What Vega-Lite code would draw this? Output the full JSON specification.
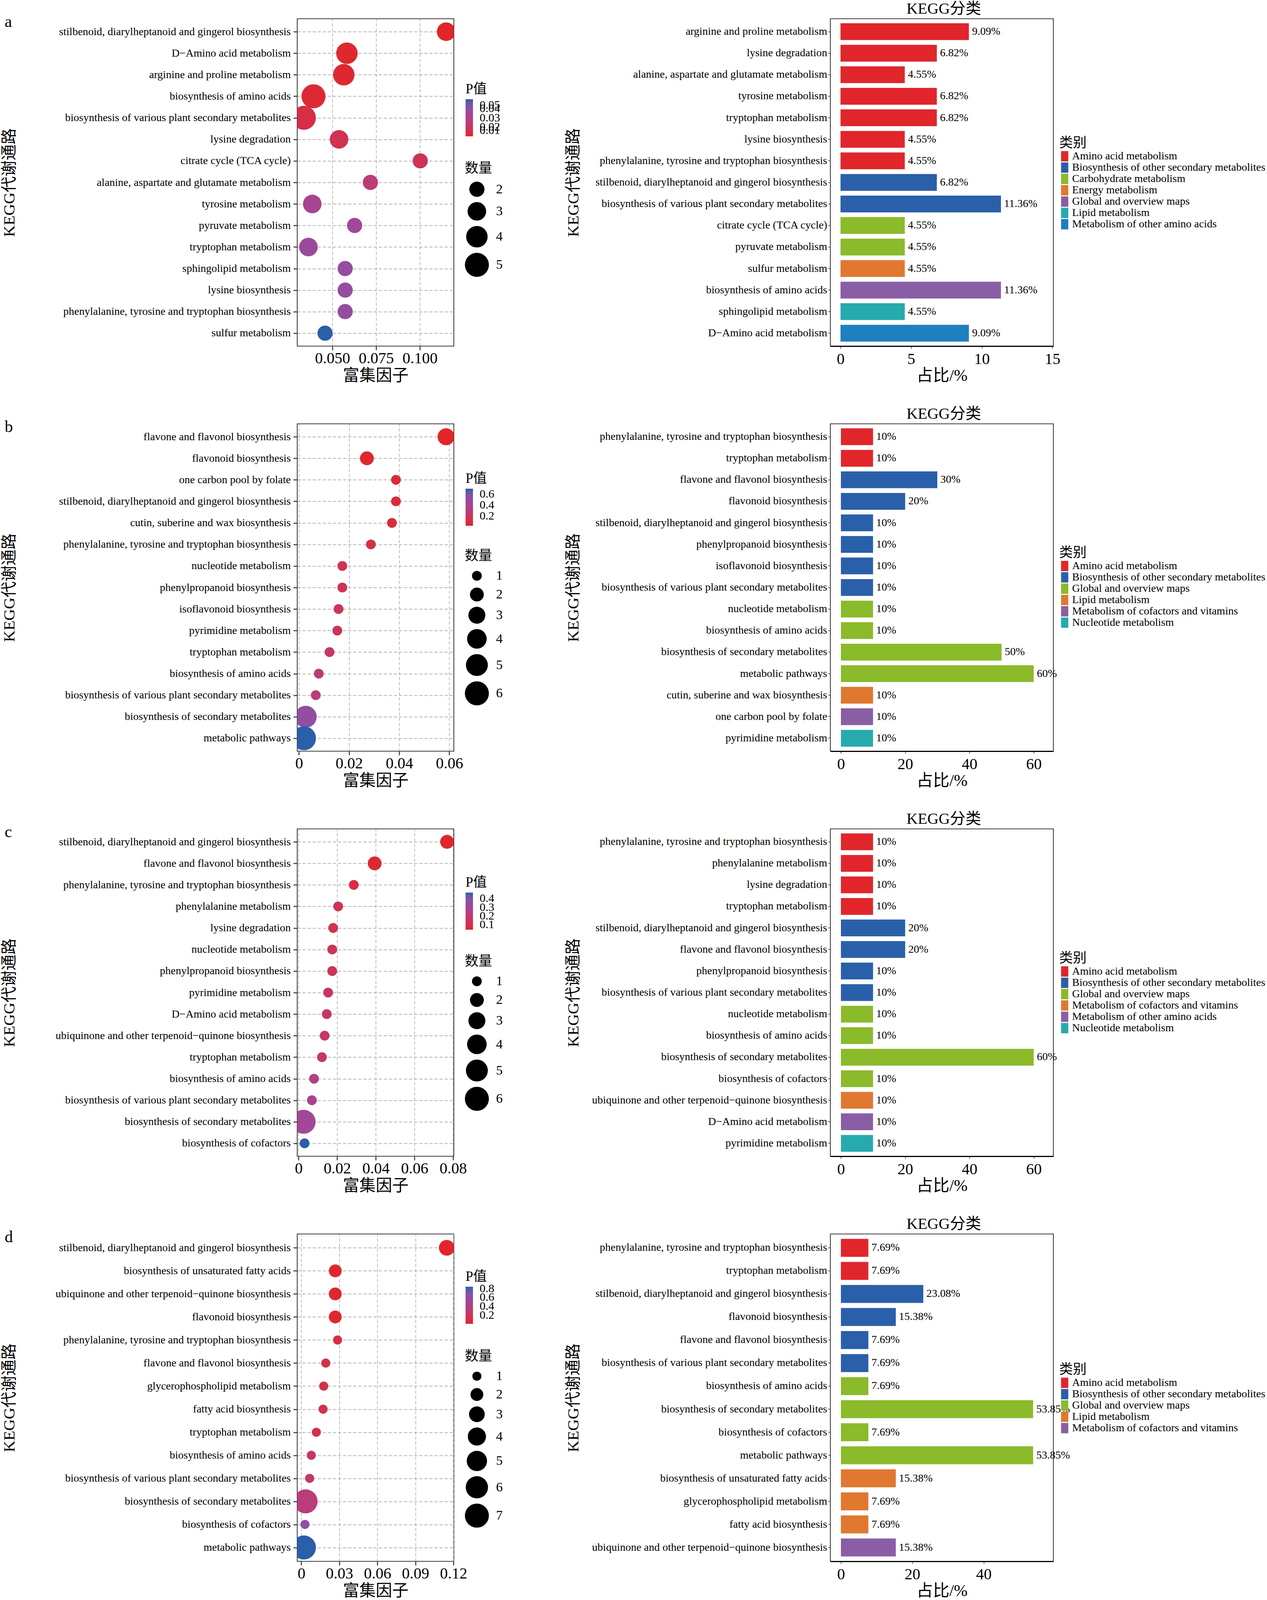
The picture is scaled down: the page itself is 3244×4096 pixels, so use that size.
{
"$schema": "https://vega.github.io/schema/vega-lite/v6.json",
"background": "white",
"padding": {"left": 2, "top": 2, "right": 0, "bottom": 0},
"config": {
  "font": "Liberation Serif, Noto Sans CJK SC",
  "view": {"stroke": "black", "strokeWidth": 1.6},
  "axis": {"labelColor": "black", "titleColor": "black", "titleFontWeight": "normal", "labelLimit": 1000, "domain": false, "grid": false, "tickColor": "#333333", "labelOverlap": false, "labelFlush": false},
  "legend": {"labelColor": "black", "titleColor": "black", "titleFontWeight": "normal", "labelLimit": 1000, "padding": 0, "symbolBaseFillColor": "black", "symbolBaseStrokeColor": "black"},
  "title": {"fontWeight": "normal", "color": "black"}
},
"datasets": {
  "a_bub": [
    {"pathway":"stilbenoid, diarylheptanoid and gingerol biosynthesis","rich":0.1150,"p":0.010,"count":3},
    {"pathway":"D−Amino acid metabolism","rich":0.0583,"p":0.011,"count":4},
    {"pathway":"arginine and proline metabolism","rich":0.0565,"p":0.011,"count":4},
    {"pathway":"biosynthesis of amino acids","rich":0.0392,"p":0.012,"count":5},
    {"pathway":"biosynthesis of various plant secondary metabolites","rich":0.0337,"p":0.015,"count":5},
    {"pathway":"lysine degradation","rich":0.0538,"p":0.018,"count":3},
    {"pathway":"citrate cycle (TCA cycle)","rich":0.1002,"p":0.019,"count":2},
    {"pathway":"alanine, aspartate and glutamate metabolism","rich":0.0717,"p":0.026,"count":2},
    {"pathway":"tyrosine metabolism","rich":0.0385,"p":0.033,"count":3},
    {"pathway":"pyruvate metabolism","rich":0.0627,"p":0.035,"count":2},
    {"pathway":"tryptophan metabolism","rich":0.0363,"p":0.037,"count":3},
    {"pathway":"sphingolipid metabolism","rich":0.0573,"p":0.039,"count":2},
    {"pathway":"lysine biosynthesis","rich":0.0573,"p":0.039,"count":2},
    {"pathway":"phenylalanine, tyrosine and tryptophan biosynthesis","rich":0.0573,"p":0.039,"count":2},
    {"pathway":"sulfur metabolism","rich":0.0458,"p":0.050,"count":2}
  ],
  "a_bar": [
    {"pathway":"arginine and proline metabolism","pct":9.09,"lab":"9.09%","cat":"Amino acid metabolism"},
    {"pathway":"lysine degradation","pct":6.82,"lab":"6.82%","cat":"Amino acid metabolism"},
    {"pathway":"alanine, aspartate and glutamate metabolism","pct":4.55,"lab":"4.55%","cat":"Amino acid metabolism"},
    {"pathway":"tyrosine metabolism","pct":6.82,"lab":"6.82%","cat":"Amino acid metabolism"},
    {"pathway":"tryptophan metabolism","pct":6.82,"lab":"6.82%","cat":"Amino acid metabolism"},
    {"pathway":"lysine biosynthesis","pct":4.55,"lab":"4.55%","cat":"Amino acid metabolism"},
    {"pathway":"phenylalanine, tyrosine and tryptophan biosynthesis","pct":4.55,"lab":"4.55%","cat":"Amino acid metabolism"},
    {"pathway":"stilbenoid, diarylheptanoid and gingerol biosynthesis","pct":6.82,"lab":"6.82%","cat":"Biosynthesis of other secondary metabolites"},
    {"pathway":"biosynthesis of various plant secondary metabolites","pct":11.36,"lab":"11.36%","cat":"Biosynthesis of other secondary metabolites"},
    {"pathway":"citrate cycle (TCA cycle)","pct":4.55,"lab":"4.55%","cat":"Carbohydrate metabolism"},
    {"pathway":"pyruvate metabolism","pct":4.55,"lab":"4.55%","cat":"Carbohydrate metabolism"},
    {"pathway":"sulfur metabolism","pct":4.55,"lab":"4.55%","cat":"Energy metabolism"},
    {"pathway":"biosynthesis of amino acids","pct":11.36,"lab":"11.36%","cat":"Global and overview maps"},
    {"pathway":"sphingolipid metabolism","pct":4.55,"lab":"4.55%","cat":"Lipid metabolism"},
    {"pathway":"D−Amino acid metabolism","pct":9.09,"lab":"9.09%","cat":"Metabolism of other amino acids"}
  ],
  "b_bub": [
    {"pathway":"flavone and flavonol biosynthesis","rich":0.0587,"p":0.02,"count":3},
    {"pathway":"flavonoid biosynthesis","rich":0.0271,"p":0.03,"count":2},
    {"pathway":"one carbon pool by folate","rich":0.0387,"p":0.07,"count":1},
    {"pathway":"stilbenoid, diarylheptanoid and gingerol biosynthesis","rich":0.0387,"p":0.07,"count":1},
    {"pathway":"cutin, suberine and wax biosynthesis","rich":0.0371,"p":0.08,"count":1},
    {"pathway":"phenylalanine, tyrosine and tryptophan biosynthesis","rich":0.0287,"p":0.11,"count":1},
    {"pathway":"nucleotide metabolism","rich":0.0173,"p":0.16,"count":1},
    {"pathway":"phenylpropanoid biosynthesis","rich":0.0173,"p":0.16,"count":1},
    {"pathway":"isoflavonoid biosynthesis","rich":0.0158,"p":0.18,"count":1},
    {"pathway":"pyrimidine metabolism","rich":0.0153,"p":0.19,"count":1},
    {"pathway":"tryptophan metabolism","rich":0.0122,"p":0.22,"count":1},
    {"pathway":"biosynthesis of amino acids","rich":0.0079,"p":0.28,"count":1},
    {"pathway":"biosynthesis of various plant secondary metabolites","rich":0.0067,"p":0.30,"count":1},
    {"pathway":"biosynthesis of secondary metabolites","rich":0.0027,"p":0.53,"count":5},
    {"pathway":"metabolic pathways","rich":0.0020,"p":0.70,"count":6}
  ],
  "b_bar": [
    {"pathway":"phenylalanine, tyrosine and tryptophan biosynthesis","pct":10,"lab":"10%","cat":"Amino acid metabolism"},
    {"pathway":"tryptophan metabolism","pct":10,"lab":"10%","cat":"Amino acid metabolism"},
    {"pathway":"flavone and flavonol biosynthesis","pct":30,"lab":"30%","cat":"Biosynthesis of other secondary metabolites"},
    {"pathway":"flavonoid biosynthesis","pct":20,"lab":"20%","cat":"Biosynthesis of other secondary metabolites"},
    {"pathway":"stilbenoid, diarylheptanoid and gingerol biosynthesis","pct":10,"lab":"10%","cat":"Biosynthesis of other secondary metabolites"},
    {"pathway":"phenylpropanoid biosynthesis","pct":10,"lab":"10%","cat":"Biosynthesis of other secondary metabolites"},
    {"pathway":"isoflavonoid biosynthesis","pct":10,"lab":"10%","cat":"Biosynthesis of other secondary metabolites"},
    {"pathway":"biosynthesis of various plant secondary metabolites","pct":10,"lab":"10%","cat":"Biosynthesis of other secondary metabolites"},
    {"pathway":"nucleotide metabolism","pct":10,"lab":"10%","cat":"Global and overview maps"},
    {"pathway":"biosynthesis of amino acids","pct":10,"lab":"10%","cat":"Global and overview maps"},
    {"pathway":"biosynthesis of secondary metabolites","pct":50,"lab":"50%","cat":"Global and overview maps"},
    {"pathway":"metabolic pathways","pct":60,"lab":"60%","cat":"Global and overview maps"},
    {"pathway":"cutin, suberine and wax biosynthesis","pct":10,"lab":"10%","cat":"Lipid metabolism"},
    {"pathway":"one carbon pool by folate","pct":10,"lab":"10%","cat":"Metabolism of cofactors and vitamins"},
    {"pathway":"pyrimidine metabolism","pct":10,"lab":"10%","cat":"Nucleotide metabolism"}
  ],
  "c_bub": [
    {"pathway":"stilbenoid, diarylheptanoid and gingerol biosynthesis","rich":0.0769,"p":0.04,"count":2},
    {"pathway":"flavone and flavonol biosynthesis","rich":0.0394,"p":0.05,"count":2},
    {"pathway":"phenylalanine, tyrosine and tryptophan biosynthesis","rich":0.0286,"p":0.10,"count":1},
    {"pathway":"phenylalanine metabolism","rich":0.0205,"p":0.12,"count":1},
    {"pathway":"lysine degradation","rich":0.0179,"p":0.13,"count":1},
    {"pathway":"nucleotide metabolism","rich":0.0174,"p":0.14,"count":1},
    {"pathway":"phenylpropanoid biosynthesis","rich":0.0174,"p":0.14,"count":1},
    {"pathway":"pyrimidine metabolism","rich":0.0153,"p":0.15,"count":1},
    {"pathway":"D−Amino acid metabolism","rich":0.0146,"p":0.16,"count":1},
    {"pathway":"ubiquinone and other terpenoid−quinone biosynthesis","rich":0.0135,"p":0.17,"count":1},
    {"pathway":"tryptophan metabolism","rich":0.0121,"p":0.18,"count":1},
    {"pathway":"biosynthesis of amino acids","rich":0.0080,"p":0.25,"count":1},
    {"pathway":"biosynthesis of various plant secondary metabolites","rich":0.0069,"p":0.27,"count":1},
    {"pathway":"biosynthesis of secondary metabolites","rich":0.0026,"p":0.31,"count":6},
    {"pathway":"biosynthesis of cofactors","rich":0.0031,"p":0.47,"count":1}
  ],
  "c_bar": [
    {"pathway":"phenylalanine, tyrosine and tryptophan biosynthesis","pct":10,"lab":"10%","cat":"Amino acid metabolism"},
    {"pathway":"phenylalanine metabolism","pct":10,"lab":"10%","cat":"Amino acid metabolism"},
    {"pathway":"lysine degradation","pct":10,"lab":"10%","cat":"Amino acid metabolism"},
    {"pathway":"tryptophan metabolism","pct":10,"lab":"10%","cat":"Amino acid metabolism"},
    {"pathway":"stilbenoid, diarylheptanoid and gingerol biosynthesis","pct":20,"lab":"20%","cat":"Biosynthesis of other secondary metabolites"},
    {"pathway":"flavone and flavonol biosynthesis","pct":20,"lab":"20%","cat":"Biosynthesis of other secondary metabolites"},
    {"pathway":"phenylpropanoid biosynthesis","pct":10,"lab":"10%","cat":"Biosynthesis of other secondary metabolites"},
    {"pathway":"biosynthesis of various plant secondary metabolites","pct":10,"lab":"10%","cat":"Biosynthesis of other secondary metabolites"},
    {"pathway":"nucleotide metabolism","pct":10,"lab":"10%","cat":"Global and overview maps"},
    {"pathway":"biosynthesis of amino acids","pct":10,"lab":"10%","cat":"Global and overview maps"},
    {"pathway":"biosynthesis of secondary metabolites","pct":60,"lab":"60%","cat":"Global and overview maps"},
    {"pathway":"biosynthesis of cofactors","pct":10,"lab":"10%","cat":"Global and overview maps"},
    {"pathway":"ubiquinone and other terpenoid−quinone biosynthesis","pct":10,"lab":"10%","cat":"Metabolism of cofactors and vitamins"},
    {"pathway":"D−Amino acid metabolism","pct":10,"lab":"10%","cat":"Metabolism of other amino acids"},
    {"pathway":"pyrimidine metabolism","pct":10,"lab":"10%","cat":"Nucleotide metabolism"}
  ],
  "d_bub": [
    {"pathway":"stilbenoid, diarylheptanoid and gingerol biosynthesis","rich":0.1147,"p":0.01,"count":3},
    {"pathway":"biosynthesis of unsaturated fatty acids","rich":0.0268,"p":0.03,"count":2},
    {"pathway":"ubiquinone and other terpenoid−quinone biosynthesis","rich":0.0268,"p":0.03,"count":2},
    {"pathway":"flavonoid biosynthesis","rich":0.0268,"p":0.03,"count":2},
    {"pathway":"phenylalanine, tyrosine and tryptophan biosynthesis","rich":0.0286,"p":0.12,"count":1},
    {"pathway":"flavone and flavonol biosynthesis","rich":0.0193,"p":0.14,"count":1},
    {"pathway":"glycerophospholipid metabolism","rich":0.0177,"p":0.15,"count":1},
    {"pathway":"fatty acid biosynthesis","rich":0.0172,"p":0.15,"count":1},
    {"pathway":"tryptophan metabolism","rich":0.0119,"p":0.17,"count":1},
    {"pathway":"biosynthesis of amino acids","rich":0.0079,"p":0.25,"count":1},
    {"pathway":"biosynthesis of various plant secondary metabolites","rich":0.0066,"p":0.27,"count":1},
    {"pathway":"biosynthesis of secondary metabolites","rich":0.0034,"p":0.36,"count":7},
    {"pathway":"biosynthesis of cofactors","rich":0.0029,"p":0.66,"count":1},
    {"pathway":"metabolic pathways","rich":0.0021,"p":0.84,"count":7}
  ],
  "d_bar": [
    {"pathway":"phenylalanine, tyrosine and tryptophan biosynthesis","pct":7.69,"lab":"7.69%","cat":"Amino acid metabolism"},
    {"pathway":"tryptophan metabolism","pct":7.69,"lab":"7.69%","cat":"Amino acid metabolism"},
    {"pathway":"stilbenoid, diarylheptanoid and gingerol biosynthesis","pct":23.08,"lab":"23.08%","cat":"Biosynthesis of other secondary metabolites"},
    {"pathway":"flavonoid biosynthesis","pct":15.38,"lab":"15.38%","cat":"Biosynthesis of other secondary metabolites"},
    {"pathway":"flavone and flavonol biosynthesis","pct":7.69,"lab":"7.69%","cat":"Biosynthesis of other secondary metabolites"},
    {"pathway":"biosynthesis of various plant secondary metabolites","pct":7.69,"lab":"7.69%","cat":"Biosynthesis of other secondary metabolites"},
    {"pathway":"biosynthesis of amino acids","pct":7.69,"lab":"7.69%","cat":"Global and overview maps"},
    {"pathway":"biosynthesis of secondary metabolites","pct":53.85,"lab":"53.85%","cat":"Global and overview maps"},
    {"pathway":"biosynthesis of cofactors","pct":7.69,"lab":"7.69%","cat":"Global and overview maps"},
    {"pathway":"metabolic pathways","pct":53.85,"lab":"53.85%","cat":"Global and overview maps"},
    {"pathway":"biosynthesis of unsaturated fatty acids","pct":15.38,"lab":"15.38%","cat":"Lipid metabolism"},
    {"pathway":"glycerophospholipid metabolism","pct":7.69,"lab":"7.69%","cat":"Lipid metabolism"},
    {"pathway":"fatty acid biosynthesis","pct":7.69,"lab":"7.69%","cat":"Lipid metabolism"},
    {"pathway":"ubiquinone and other terpenoid−quinone biosynthesis","pct":15.38,"lab":"15.38%","cat":"Metabolism of cofactors and vitamins"}
  ]
},
"bounds": "flush",
"columns": 2,
"spacing": {"row": 199, "column": 964},
"resolve": {"scale": {"color": "independent", "size": "independent", "x": "independent", "y": "independent"}, "legend": {"color": "independent", "size": "independent"}, "axis": {"x": "independent", "y": "independent"}},
"concat": [
      {
        "width": 401, "height": 838,
        "data": {"name": "a_bub"},
        "title": {"text": "a", "anchor": "start", "frame": "group", "orient": "top", "fontSize": 42, "baseline": "alphabetic", "offset": 0, "dx": -749, "dy": 63},
        "mark": {"type": "circle", "opacity": 1, "clip": true},
        "encoding": {
          "y": {"field": "pathway", "type": "nominal", "sort": null, "scale": {"type": "point", "padding": 0.6},
            "axis": {"title": "KEGG代谢通路", "titleFontSize": 41, "titleAngle": 270, "titleX": -737, "titleY": 419, "titleAlign": "center", "titleBaseline": "middle", "labelFontSize": 28, "tickSize": 10, "tickWidth": 2.5, "labelPadding": 7, "grid": true, "gridDash": [8, 5], "gridColor": "#9a9a9a", "gridWidth": 1.3}},
          "x": {"field": "rich", "type": "quantitative", "scale": {"domain": [0.0299, 0.1194], "nice": false, "zero": false},
            "axis": {"title": "富集因子", "titleFontSize": 42, "titleY": 88, "titleBaseline": "alphabetic", "values": [0.05, 0.075, 0.1], "format": ".3f", "labelFontSize": 40, "tickSize": 10, "tickWidth": 2.5, "labelPadding": 1, "grid": true, "gridDash": [8, 5], "gridColor": "#9a9a9a", "gridWidth": 1.3}},
          "color": {"field": "p", "type": "quantitative", "scale": {"domain": [0.01, 0.03, 0.042, 0.05], "range": ["#E0262B", "#B0408A", "#8A50A8", "#2A5FAA"], "interpolate": "lab", "nice": false},
            "legend": {"orient": "none", "legendX": 431, "legendY": 163, "title": "P值", "titleFontSize": 35, "titlePadding": 8, "direction": "vertical", "gradientLength": 95, "gradientThickness": 19, "gradientStrokeWidth": 0, "values": [0.01, 0.02, 0.03, 0.04, 0.05], "format": ".2f", "labelFontSize": 30, "labelOffset": 17, "labelOverlap": false}},
          "size": {"field": "count", "type": "quantitative", "scale": {"domain": [0, 5], "range": [0, 3782]},
            "legend": {"orient": "none", "legendX": 429, "legendY": 366, "title": "数量", "titleFontSize": 35, "titlePadding": 16, "values": [2, 3, 4, 5], "symbolType": "circle", "symbolFillColor": "black", "symbolStrokeWidth": 0, "symbolOpacity": 1, "labelFontSize": 34, "labelOffset": 18, "rowPadding": 13}}
        }
      },
      {
        "width": 571, "height": 838,
        "data": {"name": "a_bar"},
        "title": {"text": "KEGG分类", "anchor": "middle", "frame": "group", "orient": "top", "fontSize": 40, "baseline": "alphabetic", "offset": 0, "dx": 5, "dy": 27},
        "encoding": {
          "y": {"field": "pathway", "type": "nominal", "sort": null, "scale": {"paddingInner": 0.22, "paddingOuter": 0.21},
            "axis": {"title": "KEGG代谢通路", "titleFontSize": 41, "titleAngle": 270, "titleX": -658, "titleY": 419, "titleAlign": "center", "titleBaseline": "middle", "labelFontSize": 28, "tickSize": 6, "tickWidth": 1.5, "labelPadding": 2.5}},
          "x": {"field": "pct", "type": "quantitative", "scale": {"domain": [-0.72, 15.07], "nice": false, "zero": false},
            "axis": {"title": "占比/%", "titleFontSize": 42, "titleY": 88, "titleBaseline": "alphabetic", "values": [0, 5, 10, 15], "labelFontSize": 40, "tickSize": 6, "tickWidth": 1.5, "labelPadding": 7, "domain": true, "domainColor": "black", "domainWidth": 3}}
        },
        "layer": [
          {"mark": {"type": "bar"},
           "encoding": {"color": {"field": "cat", "type": "nominal",
             "scale": {"domain": ["Amino acid metabolism", "Biosynthesis of other secondary metabolites", "Carbohydrate metabolism", "Energy metabolism", "Global and overview maps", "Lipid metabolism", "Metabolism of other amino acids"], "range": ["#E0262B", "#2A5FAA", "#8BBA2B", "#E07830", "#8A5EA5", "#27AAAD", "#1E80C0"]},
             "legend": {"orient": "none", "legendX": 586, "legendY": 301, "title": "类别", "titleFontSize": 35, "titlePadding": 2, "labelFontSize": 28, "labelOffset": 5, "symbolType": "M-0.7,-1L0.7,-1L0.7,1L-0.7,1Z", "symbolSize": 700, "symbolStrokeWidth": 0, "rowPadding": 1}}}},
          {"mark": {"type": "text", "align": "left", "baseline": "middle", "dx": 8, "fontSize": 28, "color": "black"},
           "encoding": {"text": {"field": "lab"}}}
        ]
      },
      {
        "width": 401, "height": 838,
        "data": {"name": "b_bub"},
        "title": {"text": "b", "anchor": "start", "frame": "group", "orient": "top", "fontSize": 42, "baseline": "alphabetic", "offset": 0, "dx": -749, "dy": 63},
        "mark": {"type": "circle", "opacity": 1, "clip": true},
        "encoding": {
          "y": {"field": "pathway", "type": "nominal", "sort": null, "scale": {"type": "point", "padding": 0.6},
            "axis": {"title": "KEGG代谢通路", "titleFontSize": 41, "titleAngle": 270, "titleX": -737, "titleY": 419, "titleAlign": "center", "titleBaseline": "middle", "labelFontSize": 28, "tickSize": 10, "tickWidth": 2.5, "labelPadding": 7, "grid": true, "gridDash": [8, 5], "gridColor": "#9a9a9a", "gridWidth": 1.3}},
          "x": {"field": "rich", "type": "quantitative", "scale": {"domain": [-0.0007, 0.0618], "nice": false, "zero": false},
            "axis": {"title": "富集因子", "titleFontSize": 42, "titleY": 88, "titleBaseline": "alphabetic", "values": [0, 0.02, 0.04, 0.06], "format": ".2~f", "labelFontSize": 40, "tickSize": 10, "tickWidth": 2.5, "labelPadding": 1, "grid": true, "gridDash": [8, 5], "gridColor": "#9a9a9a", "gridWidth": 1.3}},
          "color": {"field": "p", "type": "quantitative", "scale": {"domain": [0.02, 0.36, 0.564, 0.70], "range": ["#E0262B", "#B0408A", "#8A50A8", "#2A5FAA"], "interpolate": "lab", "nice": false},
            "legend": {"orient": "none", "legendX": 431, "legendY": 123, "title": "P值", "titleFontSize": 35, "titlePadding": 8, "direction": "vertical", "gradientLength": 95, "gradientThickness": 19, "gradientStrokeWidth": 0, "values": [0.2, 0.4, 0.6], "format": ".1f", "labelFontSize": 30, "labelOffset": 17, "labelOverlap": false}},
          "size": {"field": "count", "type": "quantitative", "scale": {"domain": [0, 6], "range": [0, 3782]},
            "legend": {"orient": "none", "legendX": 429, "legendY": 321, "title": "数量", "titleFontSize": 35, "titlePadding": 16, "values": [1, 2, 3, 4, 5, 6], "symbolType": "circle", "symbolFillColor": "black", "symbolStrokeWidth": 0, "symbolOpacity": 1, "labelFontSize": 34, "labelOffset": 18, "rowPadding": 13}}
        }
      },
      {
        "width": 571, "height": 838,
        "data": {"name": "b_bar"},
        "title": {"text": "KEGG分类", "anchor": "middle", "frame": "group", "orient": "top", "fontSize": 40, "baseline": "alphabetic", "offset": 0, "dx": 5, "dy": 27},
        "encoding": {
          "y": {"field": "pathway", "type": "nominal", "sort": null, "scale": {"paddingInner": 0.22, "paddingOuter": 0.21},
            "axis": {"title": "KEGG代谢通路", "titleFontSize": 41, "titleAngle": 270, "titleX": -658, "titleY": 419, "titleAlign": "center", "titleBaseline": "middle", "labelFontSize": 28, "tickSize": 6, "tickWidth": 1.5, "labelPadding": 2.5}},
          "x": {"field": "pct", "type": "quantitative", "scale": {"domain": [-3.29, 66.12], "nice": false, "zero": false},
            "axis": {"title": "占比/%", "titleFontSize": 42, "titleY": 88, "titleBaseline": "alphabetic", "values": [0, 20, 40, 60], "labelFontSize": 40, "tickSize": 6, "tickWidth": 1.5, "labelPadding": 7, "domain": true, "domainColor": "black", "domainWidth": 3}}
        },
        "layer": [
          {"mark": {"type": "bar"},
           "encoding": {"color": {"field": "cat", "type": "nominal",
             "scale": {"domain": ["Amino acid metabolism", "Biosynthesis of other secondary metabolites", "Global and overview maps", "Lipid metabolism", "Metabolism of cofactors and vitamins", "Nucleotide metabolism"], "range": ["#E0262B", "#2A5FAA", "#8BBA2B", "#E07830", "#8A5EA5", "#27AAAD"]},
             "legend": {"orient": "none", "legendX": 586, "legendY": 313, "title": "类别", "titleFontSize": 35, "titlePadding": 2, "labelFontSize": 28, "labelOffset": 5, "symbolType": "M-0.7,-1L0.7,-1L0.7,1L-0.7,1Z", "symbolSize": 700, "symbolStrokeWidth": 0, "rowPadding": 1}}}},
          {"mark": {"type": "text", "align": "left", "baseline": "middle", "dx": 8, "fontSize": 28, "color": "black"},
           "encoding": {"text": {"field": "lab"}}}
        ]
      },
      {
        "width": 401, "height": 838,
        "data": {"name": "c_bub"},
        "title": {"text": "c", "anchor": "start", "frame": "group", "orient": "top", "fontSize": 42, "baseline": "alphabetic", "offset": 0, "dx": -749, "dy": 63},
        "mark": {"type": "circle", "opacity": 1, "clip": true},
        "encoding": {
          "y": {"field": "pathway", "type": "nominal", "sort": null, "scale": {"type": "point", "padding": 0.6},
            "axis": {"title": "KEGG代谢通路", "titleFontSize": 41, "titleAngle": 270, "titleX": -737, "titleY": 419, "titleAlign": "center", "titleBaseline": "middle", "labelFontSize": 28, "tickSize": 10, "tickWidth": 2.5, "labelPadding": 7, "grid": true, "gridDash": [8, 5], "gridColor": "#9a9a9a", "gridWidth": 1.3}},
          "x": {"field": "rich", "type": "quantitative", "scale": {"domain": [-0.0007, 0.0804], "nice": false, "zero": false},
            "axis": {"title": "富集因子", "titleFontSize": 42, "titleY": 88, "titleBaseline": "alphabetic", "values": [0, 0.02, 0.04, 0.06, 0.08], "format": ".2~f", "labelFontSize": 40, "tickSize": 10, "tickWidth": 2.5, "labelPadding": 1, "grid": true, "gridDash": [8, 5], "gridColor": "#9a9a9a", "gridWidth": 1.3}},
          "color": {"field": "p", "type": "quantitative", "scale": {"domain": [0.04, 0.255, 0.384, 0.47], "range": ["#E0262B", "#B0408A", "#8A50A8", "#2A5FAA"], "interpolate": "lab", "nice": false},
            "legend": {"orient": "none", "legendX": 431, "legendY": 120, "title": "P值", "titleFontSize": 35, "titlePadding": 8, "direction": "vertical", "gradientLength": 95, "gradientThickness": 19, "gradientStrokeWidth": 0, "values": [0.1, 0.2, 0.3, 0.4], "format": ".1f", "labelFontSize": 30, "labelOffset": 17, "labelOverlap": false}},
          "size": {"field": "count", "type": "quantitative", "scale": {"domain": [0, 6], "range": [0, 3782]},
            "legend": {"orient": "none", "legendX": 429, "legendY": 322, "title": "数量", "titleFontSize": 35, "titlePadding": 16, "values": [1, 2, 3, 4, 5, 6], "symbolType": "circle", "symbolFillColor": "black", "symbolStrokeWidth": 0, "symbolOpacity": 1, "labelFontSize": 34, "labelOffset": 18, "rowPadding": 13}}
        }
      },
      {
        "width": 571, "height": 838,
        "data": {"name": "c_bar"},
        "title": {"text": "KEGG分类", "anchor": "middle", "frame": "group", "orient": "top", "fontSize": 40, "baseline": "alphabetic", "offset": 0, "dx": 5, "dy": 27},
        "encoding": {
          "y": {"field": "pathway", "type": "nominal", "sort": null, "scale": {"paddingInner": 0.22, "paddingOuter": 0.21},
            "axis": {"title": "KEGG代谢通路", "titleFontSize": 41, "titleAngle": 270, "titleX": -658, "titleY": 419, "titleAlign": "center", "titleBaseline": "middle", "labelFontSize": 28, "tickSize": 6, "tickWidth": 1.5, "labelPadding": 2.5}},
          "x": {"field": "pct", "type": "quantitative", "scale": {"domain": [-3.29, 66.12], "nice": false, "zero": false},
            "axis": {"title": "占比/%", "titleFontSize": 42, "titleY": 88, "titleBaseline": "alphabetic", "values": [0, 20, 40, 60], "labelFontSize": 40, "tickSize": 6, "tickWidth": 1.5, "labelPadding": 7, "domain": true, "domainColor": "black", "domainWidth": 3}}
        },
        "layer": [
          {"mark": {"type": "bar"},
           "encoding": {"color": {"field": "cat", "type": "nominal",
             "scale": {"domain": ["Amino acid metabolism", "Biosynthesis of other secondary metabolites", "Global and overview maps", "Metabolism of cofactors and vitamins", "Metabolism of other amino acids", "Nucleotide metabolism"], "range": ["#E0262B", "#2A5FAA", "#8BBA2B", "#E07830", "#8A5EA5", "#27AAAD"]},
             "legend": {"orient": "none", "legendX": 586, "legendY": 314, "title": "类别", "titleFontSize": 35, "titlePadding": 2, "labelFontSize": 28, "labelOffset": 5, "symbolType": "M-0.7,-1L0.7,-1L0.7,1L-0.7,1Z", "symbolSize": 700, "symbolStrokeWidth": 0, "rowPadding": 1}}}},
          {"mark": {"type": "text", "align": "left", "baseline": "middle", "dx": 8, "fontSize": 28, "color": "black"},
           "encoding": {"text": {"field": "lab"}}}
        ]
      },
      {
        "width": 401, "height": 838,
        "data": {"name": "d_bub"},
        "title": {"text": "d", "anchor": "start", "frame": "group", "orient": "top", "fontSize": 42, "baseline": "alphabetic", "offset": 0, "dx": -749, "dy": 63},
        "mark": {"type": "circle", "opacity": 1, "clip": true},
        "encoding": {
          "y": {"field": "pathway", "type": "nominal", "sort": null, "scale": {"type": "point", "padding": 0.6},
            "axis": {"title": "KEGG代谢通路", "titleFontSize": 41, "titleAngle": 270, "titleX": -737, "titleY": 419, "titleAlign": "center", "titleBaseline": "middle", "labelFontSize": 28, "tickSize": 10, "tickWidth": 2.5, "labelPadding": 7, "grid": true, "gridDash": [8, 5], "gridColor": "#9a9a9a", "gridWidth": 1.3}},
          "x": {"field": "rich", "type": "quantitative", "scale": {"domain": [-0.0032, 0.1203], "nice": false, "zero": false},
            "axis": {"title": "富集因子", "titleFontSize": 42, "titleY": 88, "titleBaseline": "alphabetic", "values": [0, 0.03, 0.06, 0.09, 0.12], "format": ".2~f", "labelFontSize": 40, "tickSize": 10, "tickWidth": 2.5, "labelPadding": 1, "grid": true, "gridDash": [8, 5], "gridColor": "#9a9a9a", "gridWidth": 1.3}},
          "color": {"field": "p", "type": "quantitative", "scale": {"domain": [0.01, 0.425, 0.674, 0.84], "range": ["#E0262B", "#B0408A", "#8A50A8", "#2A5FAA"], "interpolate": "lab", "nice": false},
            "legend": {"orient": "none", "legendX": 431, "legendY": 92, "title": "P值", "titleFontSize": 35, "titlePadding": 8, "direction": "vertical", "gradientLength": 95, "gradientThickness": 19, "gradientStrokeWidth": 0, "values": [0.2, 0.4, 0.6, 0.8], "format": ".1f", "labelFontSize": 30, "labelOffset": 17, "labelOverlap": false}},
          "size": {"field": "count", "type": "quantitative", "scale": {"domain": [0, 7], "range": [0, 3782]},
            "legend": {"orient": "none", "legendX": 429, "legendY": 296, "title": "数量", "titleFontSize": 35, "titlePadding": 16, "values": [1, 2, 3, 4, 5, 6, 7], "symbolType": "circle", "symbolFillColor": "black", "symbolStrokeWidth": 0, "symbolOpacity": 1, "labelFontSize": 34, "labelOffset": 18, "rowPadding": 13}}
        }
      },
      {
        "width": 571, "height": 838,
        "data": {"name": "d_bar"},
        "title": {"text": "KEGG分类", "anchor": "middle", "frame": "group", "orient": "top", "fontSize": 40, "baseline": "alphabetic", "offset": 0, "dx": 5, "dy": 27},
        "encoding": {
          "y": {"field": "pathway", "type": "nominal", "sort": null, "scale": {"paddingInner": 0.22, "paddingOuter": 0.21},
            "axis": {"title": "KEGG代谢通路", "titleFontSize": 41, "titleAngle": 270, "titleX": -658, "titleY": 419, "titleAlign": "center", "titleBaseline": "middle", "labelFontSize": 28, "tickSize": 6, "tickWidth": 1.5, "labelPadding": 2.5}},
          "x": {"field": "pct", "type": "quantitative", "scale": {"domain": [-2.96, 59.52], "nice": false, "zero": false},
            "axis": {"title": "占比/%", "titleFontSize": 42, "titleY": 88, "titleBaseline": "alphabetic", "values": [0, 20, 40], "labelFontSize": 40, "tickSize": 6, "tickWidth": 1.5, "labelPadding": 7, "domain": true, "domainColor": "black", "domainWidth": 3}}
        },
        "layer": [
          {"mark": {"type": "bar"},
           "encoding": {"color": {"field": "cat", "type": "nominal",
             "scale": {"domain": ["Amino acid metabolism", "Biosynthesis of other secondary metabolites", "Global and overview maps", "Lipid metabolism", "Metabolism of cofactors and vitamins"], "range": ["#E0262B", "#2A5FAA", "#8BBA2B", "#E07830", "#8A5EA5"]},
             "legend": {"orient": "none", "legendX": 586, "legendY": 330, "title": "类别", "titleFontSize": 35, "titlePadding": 2, "labelFontSize": 28, "labelOffset": 5, "symbolType": "M-0.7,-1L0.7,-1L0.7,1L-0.7,1Z", "symbolSize": 700, "symbolStrokeWidth": 0, "rowPadding": 1}}}},
          {"mark": {"type": "text", "align": "left", "baseline": "middle", "dx": 8, "fontSize": 28, "color": "black"},
           "encoding": {"text": {"field": "lab"}}}
        ]
      }
]
}
